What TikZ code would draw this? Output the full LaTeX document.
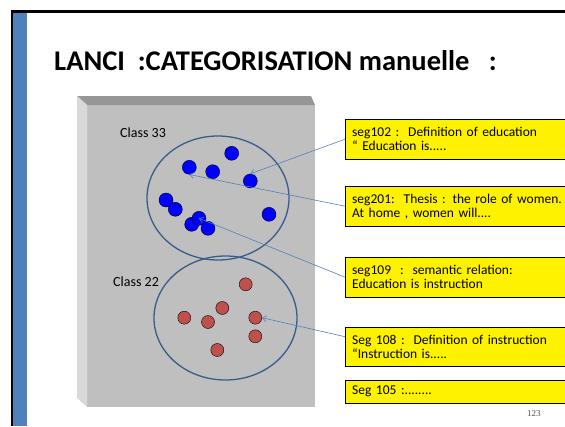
\documentclass[tikz,border=0pt]{standalone}
\usepackage{fontspec}
\setmainfont{Carlito}
\newfontfamily\pagefont{Liberation Serif}
\usetikzlibrary{arrows.meta}
\definecolor{SlideBlue}{RGB}{79,129,189}
\definecolor{RimBlue}{RGB}{56,93,138}
\definecolor{FrontGray}{RGB}{191,191,191}
\definecolor{TopGray}{RGB}{150,150,150}
\definecolor{SideGray}{RGB}{217,217,217}
\definecolor{DotBlue}{RGB}{0,0,255}
\definecolor{DotRed}{RGB}{192,80,77}
\newcommand{\bluedot}[3]{\node[bdot] (#1) at (#2,#3) {};}
\newcommand{\reddot}[3]{\node[rdot] (#1) at (#2,#3) {};}
\begin{document}
\begin{tikzpicture}[x=1pt,y=-1pt,
  bdot/.style={circle,draw=black,fill=DotBlue,minimum size=14pt,inner sep=0pt},
  rdot/.style={circle,draw=black,fill=DotRed,minimum size=13pt,inner sep=0pt},
  segbox/.style={draw=black,fill=yellow,anchor=north west,align=left,
    text width=250pt,inner xsep=7pt,inner ysep=0pt,
    font=\fontsize{13.5}{14}\selectfont},
  pointer/.style={SlideBlue,line width=0.6pt,-{Straight Barb[length=4pt,width=6pt]}}]
  \useasboundingbox (0,0) rectangle (565,426);
  \clip (0,0) rectangle (565,426);
  \fill[white] (0,0) rectangle (565,426);
  % slide frame
  \fill[black] (10.5,10) rectangle (565,12.7);
  \fill[black] (10.5,10) rectangle (13.3,426);
  \fill[SlideBlue] (13.3,12.7) rectangle (26.7,426);
  \node[anchor=base west,inner sep=0pt,font=\fontsize{28.5}{34}\selectfont\bfseries]
    (title) at (54,70) {LANCI~~:CATEGORISATION manuelle~~~:};
  % grey block
  \fill[FrontGray] (87,105) rectangle (315,407);
  \fill[TopGray] (77,96) -- (311,96) -- (315,105) -- (87,105) -- cycle;
  \fill[SideGray] (77,96) -- (87,105) -- (87,407) -- (77,398) -- cycle;
  % classes
  \draw[RimBlue,line width=1.3pt] (218,198) ellipse [x radius=71pt,y radius=62pt];
  \draw[RimBlue,line width=1.3pt] (225.5,318) ellipse [x radius=71.5pt,y radius=62pt];
  \node[anchor=west,inner sep=0pt,font=\fontsize{14}{16}\selectfont] (c33) at (120,133) {Class 33};
  \node[anchor=west,inner sep=0pt,font=\fontsize{14}{16}\selectfont] (c22) at (113,282) {Class 22};
  \bluedot{d1}{231.7}{153.3}
  \bluedot{d2}{189.3}{167.3}
  \bluedot{d3}{212.7}{171.7}
  \bluedot{d4}{250.3}{181}
  \bluedot{d5}{166}{200}
  \bluedot{d6}{175.3}{209.3}
  \bluedot{d7}{269}{214.3}
  \bluedot{d8}{191.7}{224.3}
  \bluedot{d9}{199}{218.3}
  \bluedot{d10}{208}{228.3}
  \reddot{r1}{245.7}{284.3}
  \reddot{r2}{222.3}{308}
  \reddot{r3}{184.3}{317.7}
  \reddot{r4}{208}{322}
  \reddot{r5}{255.3}{317.7}
  \reddot{r6}{255.3}{336.3}
  \reddot{r7}{217.3}{350}
  % segments
  \node[segbox,minimum height=40pt] (b102) at (345,119)
    {seg102 :~~Definition of education\\“ Education is.....};
  \node[segbox,minimum height=40pt] (b201) at (345,186)
    {seg201:~~Thesis : the role of women. “\\At home , women will....};
  \node[segbox,minimum height=40pt] (b109) at (345,257)
    {seg109~~:~~semantic relation:\\Education is instruction};
  \node[segbox,minimum height=39pt] (b108) at (345,327)
    {Seg 108 :~~Definition of instruction\\“Instruction is.....};
  \node[segbox,minimum height=23pt] (b105) at (345,380) {Seg 105 :........};
  \draw[pointer] (b102.west) -- (d4.north);
  \draw[pointer] (b201.west) -- (d2.south);
  \draw[pointer] (b109.west) -- (d9.center);
  \draw[pointer] ([yshift=10pt]b108.west) -- (r5.east);
  \node[anchor=west,inner sep=0pt,text=black!70,font=\pagefont\fontsize{9}{10}\selectfont]
    (pg) at (527,414) {123};
\end{tikzpicture}
\end{document}
